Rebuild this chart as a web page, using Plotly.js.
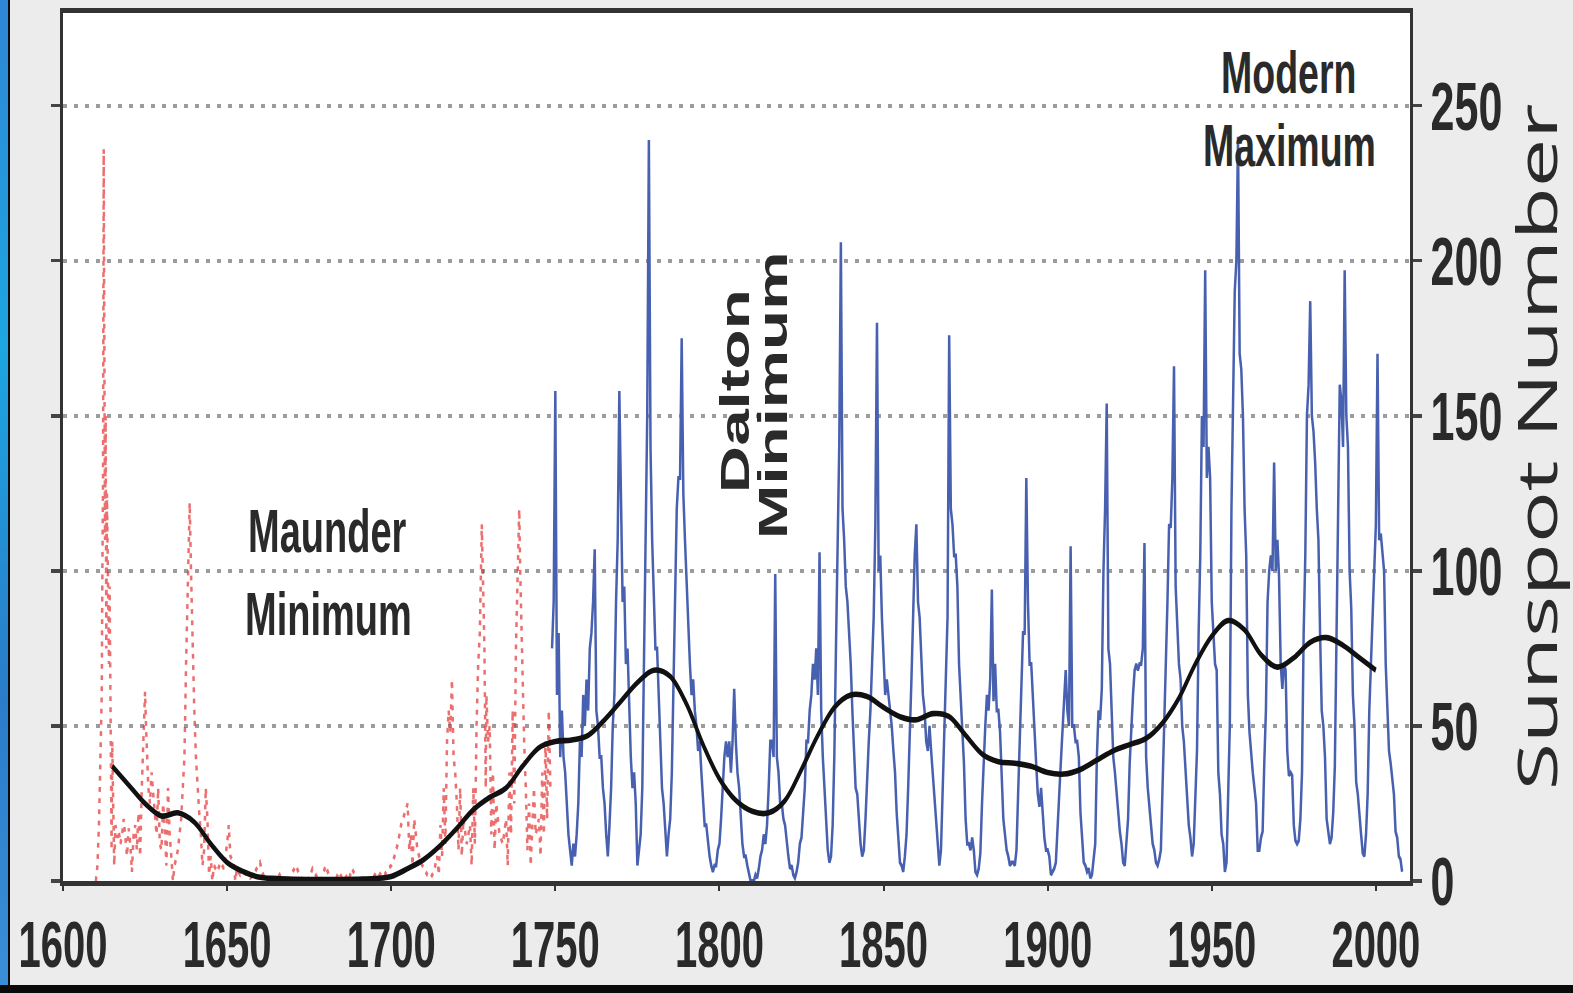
<!DOCTYPE html>
<html>
<head>
<meta charset="utf-8">
<script src="https://cdn.plot.ly/plotly-3.0.1.min.js"></script>
<style>
html,body{margin:0;padding:0;background:#ececec;overflow:hidden;width:1573px;height:993px;}
#wrap{position:absolute;left:0;top:0;width:1573px;height:621px;transform:scaleY(1.599);transform-origin:0 0;}
#chart{width:1573px;height:621px;}
#lstrip{position:absolute;left:0;top:0;width:8px;height:993px;background:linear-gradient(to bottom,#2f86d6 0%,#1ca6e0 35%,#2a7cc8 70%,#3a8fd8 100%);border-right:2px solid #0b0b0b;z-index:5;}
#bstrip{position:absolute;left:0;top:985px;width:1573px;height:8px;background:#0a0a0a;z-index:5;}
</style>
</head>
<body>
<div id="wrap"><div id="chart"></div></div>
<div id="lstrip"></div>
<div id="bstrip"></div>
<script>
// ---------- DATA ----------
const xTickVals = [1600, 1650, 1700, 1750, 1800, 1850, 1900, 1950, 2000];
const yTickVals = [0, 50, 100, 150, 200, 250];

// Group sunspot observations (red), [year, value]
const redPoints = [
 [1610,0],[1610.5,5],[1611,20],[1611.5,40],[1611.8,60],[1612,100],[1612.2,130],[1612.4,236],[1612.6,145],[1612.8,110],
 [1613,150],[1613.2,75],[1613.4,125],[1613.6,100],[1613.8,85],[1614,70],[1614.2,95],[1614.4,50],[1614.6,35],[1614.8,10],
 [1615,45],[1615.3,25],[1615.6,5],[1616,18],[1616.5,14],[1617,16],[1617.5,12],[1618,15],[1618.5,20],[1619,14],
 [1619.5,8],[1620,17],[1620.5,12],[1621,3],[1621.5,15],[1622,18],[1622.5,10],[1623,22],[1623.5,8],[1624,30],
 [1624.5,45],[1625,61],[1625.3,50],[1625.6,38],[1626,30],[1626.5,25],[1627,35],[1627.5,28],[1628,20],[1628.5,15],
 [1629,30],[1629.5,12],[1630,10],[1630.5,25],[1631,18],[1631.5,5],[1632,30],[1632.5,15],[1633,8],[1633.5,0],
 [1634,5],[1635,10],[1636,20],[1637,40],[1637.5,70],[1638,95],[1638.3,110],[1638.6,122],[1639,100],[1639.3,85],
 [1639.6,70],[1640,55],[1640.5,40],[1641,30],[1641.5,22],[1642,15],[1642.5,5],[1643,10],[1643.5,30],[1644,20],
 [1644.5,2],[1645,8],[1645.5,0],[1646,5],[1647,3],[1648,6],[1649,4],[1650,12],[1650.5,18],[1651,8],
 [1652,6],[1652.5,0],[1653,4],[1654,2],[1655,3],[1656,2],[1657,1],[1658,2],[1659,4],[1660,6],
 [1661,2],[1662,0],[1663,1],[1664,0],[1665,0],[1666,2],[1667,0],[1668,1],[1669,0],[1670,3],
 [1671,5],[1672,2],[1673,0],[1674,0],[1675,1],[1676,4],[1677,2],[1678,0],[1679,1],[1680,5],
 [1681,2],[1682,0],[1683,0],[1684,3],[1685,1],[1686,2],[1687,0],[1688,4],[1689,2],[1690,0],
 [1691,1],[1692,0],[1693,1],[1694,0],[1695,2],[1696,1],[1697,3],[1698,2],[1699,4],[1700,5],
 [1701,8],[1702,12],[1703,18],[1704,22],[1705,25],[1705.5,10],[1706,15],[1706.5,5],[1707,20],[1708,10],
 [1709,6],[1710,4],[1711,2],[1712,1],[1713,3],[1714,8],[1714.5,2],[1715,18],[1715.5,8],[1716,30],
 [1716.5,12],[1717,45],[1717.5,55],[1718,48],[1718.5,65],[1719,40],[1719.5,35],[1720,25],[1720.5,10],[1721,30],
 [1721.5,8],[1722,20],[1723,12],[1724,18],[1724.5,5],[1725,30],[1725.5,12],[1726,50],[1726.5,70],[1727,80],
 [1727.3,100],[1727.6,115],[1728,95],[1728.4,75],[1728.8,30],[1729,60],[1729.5,45],[1730,50],[1730.5,15],[1731,35],
 [1731.5,10],[1732,25],[1733,15],[1734,12],[1735,20],[1735.5,5],[1736,35],[1736.5,15],[1737,55],[1737.5,25],
 [1738,75],[1738.5,95],[1739,120],[1739.3,100],[1739.6,85],[1740,60],[1740.5,45],[1741,30],[1741.5,10],[1742,25],
 [1742.5,5],[1743,18],[1743.5,30],[1744,15],[1745,20],[1745.5,8],[1746,35],[1746.5,15],[1747,45],[1747.5,20],
 [1748,55],[1748.5,30]
];

// Sunspot numbers (blue), half-year samples starting 1749.0
const blueStartYear = 1749;
const blueStep = 0.5;
const blueValues = [
 75,90, 158,60, 80,40, 55,40, 35,25, 15,10, 5,12, 8,15, 25,45, 40,60,      // 1749-1758
 50,65, 55,75, 80,90, 107,55, 50,40, 40,30, 25,15, 8,18, 30,50, 60,90,     // 1759-1768
 110,158, 120,90, 95,70, 75,55, 40,30, 35,25, 5,10, 15,30, 70,120, 150,239, // 1769-1778
 140,110, 95,75, 75,60, 45,30, 25,15, 8,15, 20,35, 65,100, 120,130, 130,175, // 1779-1788
 125,110, 95,80, 70,60, 65,55, 50,42, 45,35, 25,18, 18,12, 8,5, 3,5,       // 1789-1798
 5,10, 12,20, 30,40, 45,40, 45,35, 45,62, 45,35, 30,22, 12,8, 8,5,         // 1799-1808
 2,0, 0,0, 2,1, 4,8, 10,15, 12,18, 30,45, 45,40, 99,40, 35,25,             // 1809-1818
 25,20, 18,12, 8,4, 5,2, 1,3, 6,12, 14,22, 30,45, 45,55, 60,70,            // 1819-1828
 65,75, 60,106, 55,40, 30,20, 10,6, 8,18, 40,75, 110,140, 206,120, 110,95, // 1829-1838
 90,80, 70,55, 40,30, 28,20, 12,8, 10,20, 35,45, 55,70, 85,115, 180,100,   // 1839-1848
 105,85, 70,60, 65,60, 55,50, 42,35, 22,15, 6,5, 3,8, 15,30, 45,65,        // 1849-1858
 85,105, 115,90, 85,70, 60,55, 45,42, 50,42, 35,25, 18,12, 5,10, 30,45,    // 1859-1868
 65,85, 176,120, 115,105, 105,95, 70,60, 48,38, 20,12, 12,10, 14,10, 3,2,  // 1869-1878
 4,9, 25,40, 50,60, 55,65, 94,58, 70,55, 55,48, 30,20, 15,10, 8,5,         // 1879-1888
 6,6, 5,10, 28,45, 65,80, 80,130, 90,70, 70,58, 45,38, 28,24, 30,22,       // 1889-1898
 14,10, 10,8, 2,3, 4,6, 18,30, 38,48, 60,68, 55,50, 108,50, 50,45,         // 1899-1908
 45,40, 22,15, 6,5, 3,4, 1,2, 7,12, 40,55, 52,62, 100,120, 154,75,         // 1909-1918
 70,55, 40,35, 28,24, 16,12, 6,5, 12,20, 38,50, 60,68, 70,68, 70,70,       // 1919-1928
 75,109, 40,30, 24,18, 12,10, 6,5, 7,10, 30,42, 70,90, 115,114, 130,166,   // 1929-1938
 95,80, 70,65, 50,45, 35,26, 18,14, 8,12, 25,42, 80,105, 150,140, 197,130, // 1939-1948
 140,130, 90,78, 70,68, 35,28, 15,12, 3,6, 25,50, 120,165, 190,200, 240,170, // 1949-1958
 165,150, 120,105, 60,48, 40,35, 30,25, 10,10, 14,16, 38,55, 90,100, 105,100, // 1959-1968
 135,100, 110,98, 70,62, 70,68, 42,34, 35,34, 18,13, 12,13, 20,35, 80,105, // 1969-1978
 150,160, 187,150, 145,135, 120,110, 80,55, 50,40, 20,16, 12,14, 22,37, 85,115, // 1979-1988
 160,155, 140,197, 150,140, 100,88, 60,50, 32,28, 20,15, 9,8, 15,28, 55,73, // 1989-1998
 85,100, 115,170, 110,112, 105,100, 70,58, 42,38, 32,28, 16,14, 8,7, 3     // 1999-2008
];

// Smoothed sunspot number (black), [year, value]
const smoothPoints = [
 [1615,37],[1620,31],[1625,25],[1630,21],[1635,22],[1640,19],[1645,12],[1650,6],[1655,3],[1660,1.2],
 [1665,0.8],[1670,0.6],[1675,0.5],[1680,0.5],[1685,0.5],[1690,0.6],[1695,0.8],[1700,1.5],[1705,4],[1710,7],
 [1715,11.5],[1720,17],[1725,23],[1730,27],[1735,30],[1740,37],[1745,43],[1750,45],[1755,45.5],[1760,47],
 [1765,52],[1770,58],[1775,64],[1780,68],[1785,66],[1790,57],[1795,44],[1800,33],[1805,26],[1810,22.5],
 [1815,22],[1820,26],[1825,36],[1830,47],[1835,56],[1840,60],[1845,59.5],[1850,56],[1855,53],[1860,52],
 [1865,54],[1870,53],[1875,47],[1880,41],[1885,38.5],[1890,38],[1895,37],[1900,35],[1905,34.5],[1910,36],
 [1915,39],[1920,42],[1925,44],[1930,46],[1935,51],[1940,59],[1945,70],[1950,79],[1955,84],[1960,81],
 [1965,73],[1970,69],[1975,72],[1980,77],[1985,78.5],[1990,76],[1995,72],[2000,68]
];

// Labels: [text, year, value, angle, size]
const labels = [
 ['Maunder', 1680.6, 113, 0, 38],
 ['Minimum', 1680.9, 86, 0, 38],
 ['Dalton', 1804.7, 158, -90, 41],
 ['Minimum', 1816.3, 156.6, -90, 41],
 ['Modern', 1973.5, 260.7, 0, 37.5],
 ['Maximum', 1973.8, 237, 0, 37.5]
];

// ---------- CHART ----------
const blueYears = blueValues.map((v, i) => blueStartYear + i * blueStep);

const traces = [
 {
  x: redPoints.map(p => p[0]), y: redPoints.map(p => p[1]),
  type: 'scatter', mode: 'lines',
  line: {color: 'rgba(228,50,50,0.7)', width: 2.5, dash: '3px,4px'},
  hoverinfo: 'skip', cliponaxis: false
 },
 {
  x: blueYears, y: blueValues,
  type: 'scatter', mode: 'lines',
  line: {color: 'rgb(72,96,176)', width: 2.5},
  hoverinfo: 'skip'
 },
 {
  x: smoothPoints.map(p => p[0]), y: smoothPoints.map(p => p[1]),
  type: 'scatter', mode: 'lines',
  line: {color: '#111111', width: 3.5, shape: 'spline', smoothing: 1},
  hoverinfo: 'skip'
 }
];

const FONT = 'Arial, "Liberation Sans", Helvetica, sans-serif';

const layout = {
 width: 1573, height: 621,
 margin: {l: 63, r: 163, t: 7.5, b: 70, pad: 0},
 paper_bgcolor: '#ececec',
 plot_bgcolor: '#ffffff',
 showlegend: false,
 font: {family: FONT, color: '#222'},
 xaxis: {
  range: [1600, 2010.4],
  tickvals: xTickVals, ticktext: xTickVals.map(String),
  ticks: 'outside', ticklen: 3, tickwidth: 2, tickcolor: '#333',
  showline: true, linewidth: 3, linecolor: '#333', mirror: true,
  showgrid: false, zeroline: false,
  tickfont: {family: FONT, size: 40, color: '#2a2a2a', weight: 'bold'},
  ticklabelstandoff: 0,
  fixedrange: true
 },
 yaxis: {
  range: [0, 280], side: 'right',
  tickvals: yTickVals, ticktext: yTickVals.map(String),
  ticks: 'outside', ticklen: 9, tickwidth: 2, tickcolor: '#444',
  showline: true, linewidth: 3, linecolor: '#333', mirror: 'allticks',
  showgrid: true, gridcolor: '#9c9c9c', gridwidth: 2.5, griddash: '4px,7px',
  zeroline: false,
  tickfont: {family: FONT, size: 43, color: '#2a2a2a', weight: 'bold'},
  ticklabelstandoff: 0,
  title: {text: 'Sunspot Number', font: {family: '"Open Sans", "Noto Sans", sans-serif', size: 54, color: '#2a2a2a', weight: 500}, standoff: 8},
  fixedrange: true
 },
 annotations: labels.map(l => ({
  text: l[0], x: l[1], y: l[2], xref: 'x', yref: 'y',
  showarrow: false, textangle: l[3],
  xanchor: 'center', yanchor: 'middle',
  font: {family: FONT, size: l[4], color: '#2a2a2a', weight: 'bold'}
 }))
};

Plotly.newPlot('chart', traces, layout, {displayModeBar: false, staticPlot: true});
</script>
</body>
</html>
